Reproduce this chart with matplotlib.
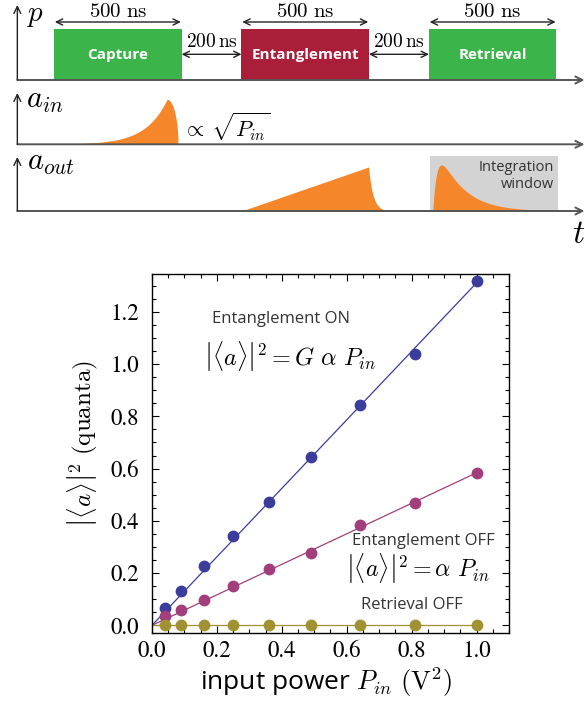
import numpy as np
import matplotlib
matplotlib.use("Agg")
import matplotlib.pyplot as plt
from matplotlib.patches import Rectangle

p_in = [0.04, 0.09, 0.16, 0.25, 0.36, 0.49, 0.64, 0.81, 1.00]
ent_on = [0.066, 0.133, 0.228, 0.342, 0.471, 0.646, 0.843, 1.038, 1.318]
ent_off = [0.034, 0.057, 0.098, 0.151, 0.217, 0.278, 0.383, 0.467, 0.582]
retr_off = [0.0, 0.0, 0.0, 0.0, 0.0, 0.0, 0.0, 0.0, 0.0]

x_ticks = [0.0, 0.2, 0.4, 0.6, 0.8, 1.0]
y_ticks = [0.0, 0.2, 0.4, 0.6, 0.8, 1.0, 1.2]

# ---- pulse sequence (schematic, ns) ----
phase_names = ["Capture", "Entanglement", "Retrieval"]
phase_start = [0, 735, 1470]
phase_len = 500
phase_colors = ["#3bb54a", "#ab1e3a", "#3bb54a"]

# envelope parameters of the sketched pulses
ain_peak, ain_rise, ain_fall = 443, 86, 43
ramp_start, ramp_end, ramp_decay = 735, 1233, 17.6
ret_start, ret_rise, ret_decay = 1485, 16, 94

ORANGE = "#f5862a"
AXC = "#555555"
BLUE = "#3a3d9c"
PURPLE = "#a23e7b"
OLIVE = "#a09233"
SANS = "Open Sans"

fig = plt.figure(figsize=(5.85, 7.08), dpi=100)

# ================= timing diagram =================
axd = fig.add_axes([0, 458 / 708, 1, 250 / 708])
axd.set_xlim(-212, 2082)
axd.set_ylim(250, 0)
axd.axis("off")

rows = [(80, 5), (144.3, 93), (211, 157)]   # (baseline, top of arrow)
x_axis = -144
for base, top in rows:
    axd.annotate("", xy=(2080, base), xytext=(x_axis, base),
                 arrowprops=dict(arrowstyle="->,head_length=0.5,head_width=0.25",
                                 color=AXC, lw=1.4, shrinkA=0, shrinkB=0))
    axd.annotate("", xy=(x_axis, top), xytext=(x_axis, base),
                 arrowprops=dict(arrowstyle="->,head_length=0.5,head_width=0.25",
                                 color="#222222", lw=1.0, shrinkA=0, shrinkB=0))

axd.text(-110, 15, "$p$", fontsize=21, math_fontfamily="cm", va="center")
axd.text(-110, 108, "$a_{in}$", fontsize=22, math_fontfamily="cm", va="baseline")
axd.text(-106, 170, "$a_{out}$", fontsize=22, math_fontfamily="cm", va="baseline")
axd.text(2030, 243, "$t$", fontsize=24, math_fontfamily="cm", va="baseline")

arrow2 = dict(arrowstyle="<->,head_length=0.45,head_width=0.22", color="#222222",
              lw=1.0, shrinkA=0, shrinkB=0)
for name, start, col in zip(phase_names, phase_start, phase_colors):
    axd.add_patch(Rectangle((start, 29), phase_len, 51, color=col, lw=0))
    axd.text(start + phase_len / 2, 55, name, color="white", fontsize=11,
             fontweight="bold", family=SANS, ha="center", va="center")
    axd.annotate("", xy=(start + phase_len - 3, 22), xytext=(start + 3, 22),
                 arrowprops=arrow2)
    axd.text(start + phase_len / 2, 11, r"$500\ \mathrm{ns}$", fontsize=15,
             math_fontfamily="cm", ha="center", va="center")

for a, b in zip(phase_start[:-1], phase_start[1:]):
    g0 = a + phase_len
    axd.annotate("", xy=(b, 54.3), xytext=(g0, 54.3), arrowprops=arrow2)
    axd.text((g0 + b) / 2, 41.5, r"$200\,\mathrm{ns}$", fontsize=14,
             math_fontfamily="cm", ha="center", va="center")

# a_in pulse
base = rows[1][0]
t1 = np.linspace(60, ain_peak, 200)
t2 = np.linspace(ain_peak, ain_peak + ain_fall, 60)
h1 = 45 * np.exp((t1 - ain_peak) / ain_rise)
h2 = 45 * np.sqrt(np.clip(1 - ((t2 - ain_peak) / ain_fall) ** 2, 0, 1))
t = np.concatenate([t1, t2])
h = np.concatenate([h1, h2])
axd.fill_between(t, base, base - h, color=ORANGE, lw=0)
axd.text(505, 127, r"$\propto\,\sqrt{P_{in}}$", fontsize=16, math_fontfamily="cm",
         va="center")

# a_out: integration window
base = rows[2][0]
axd.add_patch(Rectangle((phase_start[2] + 6, 155.7), phase_len, base - 155.7,
                        color="#d3d3d3", lw=0))
axd.text(1961, 176, "Integration\nwindow", ha="right", va="center",
         fontsize=10.5, family=SANS, color="#333333", linespacing=1.25)

# a_out: ramp during entanglement and decay
t1 = np.linspace(ramp_start, ramp_end, 50)
h1 = 44 * (t1 - ramp_start) / (ramp_end - ramp_start)
t2 = np.linspace(ramp_end, ramp_end + 170, 120)
h2 = 44 * np.exp(-(t2 - ramp_end) / ramp_decay)
axd.fill_between(np.concatenate([t1, t2]), base,
                 base - np.concatenate([h1, h2]), color=ORANGE, lw=0)

# retrieved pulse
s = np.linspace(0, 470, 300)
env = np.exp(-s / ret_decay) - np.exp(-s / ret_rise)
axd.fill_between(ret_start + s, base, base - 46 * env / env.max(),
                 color=ORANGE, lw=0)

# ================= data plot =================
ax = fig.add_axes([0.2598, 0.1064, 0.6103, 0.5066])
ax.set_xlim(0, 1.1)
ax.set_ylim(-0.028, 1.345)

x = np.array(p_in)
for ys, col in [(ent_on, BLUE), (ent_off, PURPLE), (retr_off, OLIVE)]:
    y = np.array(ys)
    slope = np.sum(x * y) / np.sum(x * x)
    ax.plot([0, 1.0], [0, slope], color=col, lw=0.9, zorder=2)
    ax.plot(x, y, "o", color=col, ms=8.5, mew=0, zorder=3)

ax.set_xticks(x_ticks)
ax.set_yticks(y_ticks)
ax.set_xticks(np.arange(0, 1.1001, 0.05), minor=True)
ax.set_yticks(np.arange(0, 1.3451, 0.05), minor=True)
ax.set_xticklabels([f"{v:.1f}" for v in x_ticks], family="STIXGeneral", fontsize=16.5)
ax.set_yticklabels([f"{v:.1f}" for v in y_ticks], family="STIXGeneral", fontsize=16.5)
ax.tick_params(which="both", direction="in", top=True, right=True, width=0.8)
ax.tick_params(which="major", length=5)
ax.tick_params(which="minor", length=3)
ax.tick_params(axis="x", which="major", pad=6)
ax.tick_params(axis="y", which="major", pad=9)
for sp in ax.spines.values():
    sp.set_linewidth(1.0)

ax.set_ylabel(r"$\left|\langle a\rangle\right|^2\ (\mathrm{quanta})$",
              fontsize=18, math_fontfamily="cm")
ax.yaxis.set_label_coords(-0.146, 0.526)
ax.set_xlabel(r"input power $P_{in}\ (\mathrm{V}^2)$", fontsize=19,
              family=SANS, math_fontfamily="cm")
ax.xaxis.set_label_coords(0.487, -0.09)

ax.text(0.397, 1.172, "Entanglement ON", fontsize=12, family=SANS,
        color="#333333", ha="center", va="center")
ax.text(0.425, 1.030, r"$\left|\langle a\rangle\right|^2 = G\ \alpha\ P_{in}$",
        fontsize=17.5, math_fontfamily="cm", ha="center", va="center")
ax.text(0.835, 0.324, "Entanglement OFF", fontsize=12, family=SANS,
        color="#333333", ha="center", va="center")
ax.text(0.818, 0.218, r"$\left|\langle a\rangle\right|^2 = \alpha\ P_{in}$",
        fontsize=17.2, math_fontfamily="cm", ha="center", va="center")
ax.text(0.802, 0.078, "Retrieval OFF", fontsize=12, family=SANS,
        color="#333333", ha="center", va="center")

fig.savefig("out.png", dpi=100)
